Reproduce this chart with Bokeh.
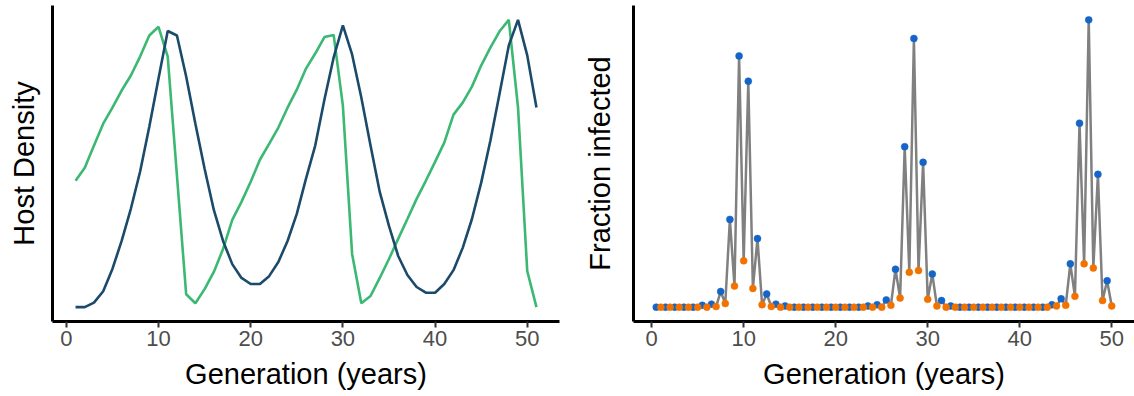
from bokeh.plotting import figure
from bokeh.layouts import row
from bokeh.models import Range1d, FixedTicker
from bokeh.embed import file_html
from bokeh.resources import INLINE

# ---- host dynamics (relative density per generation) ----
generation = list(range(1, 52))
host_green = [0.470, 0.513, 0.587, 0.660, 0.713, 0.770, 0.820, 0.883, 0.953, 0.982,
              0.883, 0.487, 0.093, 0.063, 0.110, 0.167, 0.243, 0.340, 0.400, 0.467,
              0.540, 0.593, 0.647, 0.713, 0.773, 0.843, 0.893, 0.948, 0.955, 0.720,
              0.227, 0.063, 0.087, 0.147, 0.210, 0.277, 0.343, 0.410, 0.470, 0.533,
              0.597, 0.690, 0.730, 0.783, 0.853, 0.913, 0.967, 1.005, 0.714, 0.170,
              0.050]
host_blue = [0.050, 0.050, 0.065, 0.103, 0.177, 0.270, 0.377, 0.500, 0.650, 0.810,
             0.968, 0.953, 0.817, 0.660, 0.510, 0.373, 0.270, 0.193, 0.147, 0.127,
             0.127, 0.153, 0.200, 0.270, 0.360, 0.477, 0.587, 0.740, 0.880, 0.987,
             0.890, 0.747, 0.587, 0.433, 0.320, 0.220, 0.157, 0.117, 0.098, 0.098,
             0.127, 0.173, 0.247, 0.343, 0.463, 0.603, 0.760, 0.920, 1.005, 0.887,
             0.714]

# ---- fraction infected, two samples per year ----
mid_year_time = [i + 0.5 for i in range(50)]
end_year_time = [i + 1.0 for i in range(50)]
infected_mid = [0, 0, 0, 0, 0, 0.003, 0.005, 0.026, 0.146, 0.418,
                0.376, 0.114, 0.022, 0.005, 0.002, 0, 0, 0, 0, 0,
                0, 0, 0, 0.002, 0.004, 0.012, 0.063, 0.267, 0.447, 0.241,
                0.055, 0.011, 0.002, 0, 0, 0, 0, 0, 0, 0,
                0, 0, 0, 0.004, 0.014, 0.072, 0.306, 0.478, 0.221, 0.044]
infected_end = [0, 0, 0, 0, 0, 0, 0.001, 0.006, 0.035, 0.077,
                0.031, 0.004, 0.001, 0, 0, 0, 0, 0, 0, 0,
                0, 0, 0, 0, 0, 0.003, 0.015, 0.058, 0.061, 0.013,
                0.002, 0, 0, 0, 0, 0, 0, 0, 0, 0,
                0, 0, 0, 0.002, 0.003, 0.018, 0.072, 0.065, 0.011, 0.002]

x_ticks = [0, 10, 20, 30, 40, 50]

GREEN = "#3BB872"
NAVY = "#1B4A6A"
GREY = "#808080"
BLUE = "#1565C8"
ORANGE = "#F27200"
FONT = "Liberation Sans"


def padded(values, frac=0.05):
    lo, hi = min(values), max(values)
    pad = (hi - lo) * frac
    return Range1d(lo - pad, hi + pad)


def style(p, ylabel, label_standoff):
    p.xgrid.visible = False
    p.ygrid.visible = False
    p.outline_line_color = None
    p.background_fill_color = "white"
    p.border_fill_color = "white"

    xa = p.xaxis[0]
    xa.ticker = FixedTicker(ticks=x_ticks)
    xa.axis_label = "Generation (years)"
    xa.axis_label_text_font = FONT
    xa.axis_label_text_font_size = "29px"
    xa.axis_label_text_font_style = "normal"
    xa.axis_label_text_color = "black"
    xa.axis_label_standoff = 9
    xa.axis_line_color = "black"
    xa.axis_line_width = 3
    xa.major_tick_line_color = "#333333"
    xa.major_tick_line_width = 2
    xa.major_tick_out = 6
    xa.major_tick_in = 0
    xa.minor_tick_line_color = None
    xa.major_label_text_font = FONT
    xa.major_label_text_font_size = "22px"
    xa.major_label_text_color = "#4D4D4D"
    xa.major_label_standoff = 3

    ya = p.yaxis[0]
    ya.ticker = FixedTicker(ticks=[])
    ya.axis_label = ylabel
    ya.axis_label_text_font = FONT
    ya.axis_label_text_font_size = "29px"
    ya.axis_label_text_font_style = "normal"
    ya.axis_label_text_color = "black"
    ya.axis_label_standoff = label_standoff
    ya.axis_line_color = "black"
    ya.axis_line_width = 3
    ya.major_tick_line_color = None
    ya.minor_tick_line_color = None
    ya.major_label_text_font_size = "0px"


# left panel: host densities
p1 = figure(width=580, height=396, output_backend="svg", toolbar_location=None,
            x_range=Range1d(-1.5, 53.5), y_range=padded(host_green + host_blue),
            min_border_left=52, min_border_right=21, min_border_top=5, min_border_bottom=75)
p1.line(generation, host_green, line_color=GREEN, line_width=2.6)
p1.line(generation, host_blue, line_color=NAVY, line_width=2.6)
style(p1, "Host Density", 13)

# right panel: infection trajectory
all_time = []
all_inf = []
for t_a, v_a, t_b, v_b in zip(mid_year_time, infected_mid, end_year_time, infected_end):
    all_time += [t_a, t_b]
    all_inf += [v_a, v_b]

p2 = figure(width=554, height=396, output_backend="svg", toolbar_location=None,
            x_range=padded(all_time), y_range=padded(all_inf),
            min_border_left=51, min_border_right=0, min_border_top=5, min_border_bottom=75)
p2.line(all_time, all_inf, line_color=GREY, line_width=2.5)
p2.scatter(mid_year_time, infected_mid, size=7, fill_color=BLUE, line_color=BLUE, line_width=0.5)
p2.scatter(end_year_time, infected_end, size=7, fill_color=ORANGE, line_color=ORANGE, line_width=0.5)
style(p2, "Fraction infected", 18)

layout = row(p1, p2)
open("out.html", "w").write(file_html(layout, INLINE))
